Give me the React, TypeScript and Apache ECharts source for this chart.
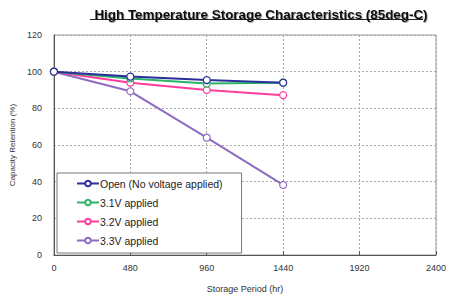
import React, { useEffect, useRef } from "react";
import * as echarts from "echarts";

const hours = [0, 480, 960, 1440];
const seriesNames = ["Open (No voltage applied)", "3.1V applied", "3.2V applied", "3.3V applied"];
const openValues = [100, 97.3, 95.4, 94];
const v31Values = [100, 96.3, 93.5, 94];
const v32Values = [100, 94, 90, 87.2];
const v33Values = [100, 89.3, 64, 38.2];
const colors = ["#2b2f9a", "#2bb36a", "#ff3d9a", "#8e6bc2"];
const xTicks = [0, 480, 960, 1440, 1920, 2400];
const yTicks = [0, 20, 40, 60, 80, 100, 120];

export default function App() {
  const ref = useRef<HTMLDivElement>(null);
  useEffect(() => {
    if (!ref.current) return;
    const chart = echarts.init(ref.current, undefined, { renderer: "svg" });
    const all = [openValues, v31Values, v32Values, v33Values];
    const font = "Liberation Sans, Arial, sans-serif";
    chart.setOption({
      animation: false,
      backgroundColor: "#ffffff",
      textStyle: { fontFamily: font },
      title: {
        text: "High Temperature Storage Characteristics (85deg-C)",
        left: 256,
        textAlign: "center",
        top: 3,
        textStyle: {
          fontSize: 13.4,
          fontWeight: "bold",
          color: "#111",
          fontFamily: font,
          textShadowColor: "rgba(0,0,0,0.35)",
          textShadowOffsetX: 1,
          textShadowOffsetY: 1,
          textShadowBlur: 1,
        },
      },
      graphic: [
        {
          type: "line",
          shape: { x1: 90, y1: 19.5, x2: 423, y2: 19.5 },
          style: { stroke: "#222", lineWidth: 1 },
        },
      ],
      grid: { left: 52, right: 11, top: 35, bottom: 47, show: true, borderColor: "#999", borderWidth: 1 },
      legend: {
        orient: "vertical",
        left: 57,
        top: 173,
        padding: [5, 19, 7, 19],
        itemGap: 8,
        itemWidth: 22,
        itemHeight: 7,
        borderColor: "#777",
        borderWidth: 1,
        backgroundColor: "#fff",
        data: seriesNames,
        textStyle: { fontSize: 10.5, color: "#222", padding: [0, 0, 0, -4] },
      },
      xAxis: {
        type: "value",
        min: 0,
        max: 2400,
        interval: 480,
        name: "Storage Period (hr)",
        nameLocation: "middle",
        nameGap: 29,
        nameTextStyle: { fontSize: 9, color: "#333" },
        axisLine: { lineStyle: { color: "#555" } },
        axisTick: { show: true, inside: true, length: 4, lineStyle: { color: "#555" } },
        axisLabel: { fontSize: 9, color: "#333", margin: 8, formatter: (v: number) => (xTicks.includes(v) ? String(v) : "") },
        splitLine: { show: true, lineStyle: { color: "#aaa", type: [2, 2] } },
      },
      yAxis: {
        type: "value",
        min: 0,
        max: 120,
        interval: 20,
        name: "Capacity Retention (%)",
        nameLocation: "middle",
        nameGap: 31,
        nameTextStyle: { fontSize: 8, color: "#333" },
        axisLine: { show: true, lineStyle: { color: "#555" } },
        axisTick: { show: false },
        axisLabel: { fontSize: 9, color: "#333", margin: 12, formatter: (v: number) => (yTicks.includes(v) ? String(v) : "") },
        splitLine: { show: true, lineStyle: { color: "#aaa", type: [2, 2] } },
      },
      series: seriesNames.map((name, i) => ({
        name,
        type: "line",
        data: hours.map((h, j) => [h, all[i][j]]),
        symbol: "circle",
        symbolSize: 7,
        showAllSymbol: true,
        lineStyle: { color: colors[i], width: 2 },
        itemStyle: { color: "#fff", borderColor: colors[i], borderWidth: 1.2 },
        z: 10 - i,
      })),
    });
    return () => chart.dispose();
  }, []);
  return <div ref={ref} style={{ position: "absolute", left: 0, top: 0, width: 449, height: 302 }} />;
}
